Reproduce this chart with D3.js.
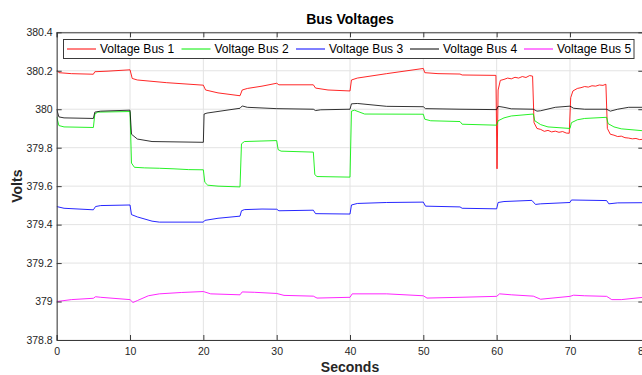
<!DOCTYPE html>
<html>
<head>
<meta charset="utf-8">
<script src="https://cdn.jsdelivr.net/npm/d3@7"></script>
<style>
  html, body { margin: 0; padding: 0; background: #fff; }
  svg { display: block; font-family: "Liberation Sans", Arial, Helvetica, sans-serif; }
</style>
</head>
<body>
<svg id="chart" width="642" height="375"></svg>
<script>
// Bus voltage traces: [time (s), voltage (V)]
const bus1 = [[0,380.204],[0.3,380.19],[2,380.185],[5,380.182],[5.2,380.195],[7,380.198],[10,380.205],[10.3,380.16],[11,380.152],[15,380.138],[20,380.125],[20.3,380.1],[22,380.085],[25,380.07],[25.3,380.1],[26,380.108],[28,380.12],[30,380.135],[30.3,380.127],[35,380.127],[35.3,380.11],[37,380.1],[40,380.095],[40.2,380.152],[41,380.162],[45,380.185],[50,380.212],[50.2,380.19],[52,380.185],[55,380.183],[55.3,380.178],[59.9,380.176],[60.05,379.69],[60.2,380.1],[60.5,380.15],[61,380.155],[61.5,380.162],[62,380.158],[62.5,380.166],[63,380.162],[63.5,380.17],[64,380.165],[64.5,380.175],[64.9,380.172],[65.1,379.93],[65.5,379.9],[66,379.895],[66.5,379.885],[67,379.89],[67.5,379.882],[68,379.886],[68.5,379.88],[69,379.884],[69.5,379.876],[69.9,379.875],[70.1,380.06],[70.4,380.095],[71,380.108],[71.5,380.112],[72,380.118],[72.5,380.115],[73,380.122],[73.5,380.12],[74,380.126],[74.5,380.124],[74.9,380.13],[75.1,379.9],[75.5,379.87],[76,379.865],[76.5,379.858],[77,379.86],[77.5,379.852],[78,379.85],[78.5,379.846],[79,379.848],[79.5,379.842],[80,379.844]];
const bus2 = [[0,379.96],[0.3,379.915],[1,379.908],[5,379.905],[5.2,379.975],[5.6,379.985],[10,379.988],[10.2,379.72],[10.6,379.698],[12,379.695],[14,379.693],[16,379.69],[18,379.686],[20,379.685],[20.2,379.62],[20.6,379.605],[22,379.6],[25,379.596],[25.2,379.82],[25.6,379.832],[30,379.837],[30.2,379.79],[30.6,379.782],[35,379.777],[35.2,379.66],[35.5,379.65],[40,379.647],[40.2,379.99],[40.6,379.995],[42,379.975],[50,379.974],[50.2,379.948],[51,379.94],[55,379.936],[55.3,379.922],[60,379.917],[60.2,379.94],[61,379.955],[62,379.965],[65,379.975],[65.2,379.94],[66,379.92],[67,379.908],[70,379.9],[70.2,379.93],[71,379.945],[72,379.952],[75,379.958],[75.2,379.925],[76,379.908],[77,379.898],[80,379.888]];
const bus3 = [[0,379.494],[1,379.485],[5,379.477],[5.3,379.494],[6,379.499],[10,379.502],[10.2,379.452],[11,379.44],[13,379.418],[14,379.413],[20,379.413],[20.2,379.422],[22,379.433],[25,379.444],[25.2,379.472],[25.6,379.478],[28,379.481],[30,379.48],[30.3,379.472],[35,379.475],[35.3,379.457],[40,379.455],[40.2,379.502],[41,379.51],[45,379.515],[50,379.517],[50.3,379.496],[55,379.492],[55.3,379.485],[60,379.482],[60.2,379.515],[61,379.52],[64.8,379.526],[65.3,379.505],[66,379.508],[70,379.515],[70.2,379.528],[75,379.525],[75.3,379.508],[76.5,379.513],[80,379.514]];
const bus4 = [[0,380.0],[0.3,379.96],[1,379.955],[5,379.952],[5.2,379.985],[6,379.99],[10,379.995],[10.2,379.87],[11,379.845],[13,379.832],[20,379.828],[20.1,379.975],[20.5,379.98],[25,380.005],[25.3,380.017],[26,380.01],[30,380.003],[35,380.0],[35.3,379.993],[36,379.997],[40,380.0],[40.2,380.028],[41,380.03],[45,380.015],[50,380.013],[50.3,380.003],[55,380.0],[60,379.998],[60.2,380.015],[61,380.01],[62,380.002],[65,380.0],[65.5,379.99],[66,379.992],[68,380.01],[70,380.016],[70.5,380.005],[72,380.0],[75,380.0],[75.5,379.99],[76.5,380.0],[78,380.01],[80,380.01]];
const bus5 = [[0,379.0],[2,379.01],[5,379.017],[5.3,379.025],[6,379.022],[10,379.01],[10.4,378.995],[11,379.005],[12.5,379.03],[14,379.04],[17,379.047],[20,379.052],[21,379.04],[25,379.035],[25.3,379.05],[27,379.048],[30,379.042],[31,379.032],[35,379.028],[35.5,379.018],[40,379.022],[40.3,379.04],[45,379.04],[50,379.03],[50.5,379.018],[55,379.022],[60,379.027],[60.4,379.04],[62,379.035],[65,379.028],[66,379.012],[70,379.027],[70.5,379.033],[72,379.03],[75,379.027],[75.7,379.01],[77,379.01],[80,379.022]];

const seriesNames = ["Voltage Bus 1", "Voltage Bus 2", "Voltage Bus 3", "Voltage Bus 4", "Voltage Bus 5"];
const seriesColors = ["#ff0000", "#00ee00", "#0000ff", "#000000", "#ff00ff"];
const seriesData = [bus1, bus2, bus3, bus4, bus5];

const xTicks = [0, 10, 20, 30, 40, 50, 60, 70, 80];
const yTicks = [378.8, 379, 379.2, 379.4, 379.6, 379.8, 380, 380.2, 380.4];
const xDomain = [0, 80];
const yDomain = [378.8, 380.4];

const svg = d3.select("#chart");
const plot = { left: 56.7, right: 643.3, top: 32.3, bottom: 340 };

const x = d3.scaleLinear().domain(xDomain).range([plot.left, plot.right]);
const y = d3.scaleLinear().domain(yDomain).range([plot.bottom, plot.top]);

const axisColor = "#3a3a3a";
const textColor = "#262626";
const fmt = d => String(+d.toFixed(1));

// grid
const grid = svg.append("g");
grid.selectAll("line.gx").data(xTicks).join("line")
  .attr("x1", d => x(d)).attr("x2", d => x(d))
  .attr("y1", plot.top).attr("y2", plot.bottom)
  .attr("stroke", "#e3e3e3").attr("stroke-width", 1);
grid.selectAll("line.gy").data(yTicks).join("line")
  .attr("y1", d => y(d)).attr("y2", d => y(d))
  .attr("x1", plot.left).attr("x2", plot.right)
  .attr("stroke", "#e3e3e3").attr("stroke-width", 1);

// traces
svg.append("clipPath").attr("id", "clip").append("rect")
  .attr("x", plot.left).attr("y", plot.top)
  .attr("width", plot.right - plot.left).attr("height", plot.bottom - plot.top);

const line = d3.line().x(d => x(d[0])).y(d => y(d[1]));
svg.append("g").attr("clip-path", "url(#clip)")
  .selectAll("path").data(seriesData).join("path")
  .attr("d", d => line(d))
  .attr("fill", "none")
  .attr("stroke", (d, i) => seriesColors[i])
  .attr("stroke-width", 1)
  .attr("stroke-opacity", (d, i) => i === 3 ? 0.8 : 0.85);

// axes with inward ticks (box style)
const tickLen = 5;
const axB = d3.axisBottom(x).tickValues(xTicks).tickSize(-tickLen).tickPadding(8).tickFormat(d3.format("d"));
const axT = d3.axisTop(x).tickValues(xTicks).tickSize(-tickLen).tickFormat("");
const axL = d3.axisLeft(y).tickValues(yTicks).tickSize(-tickLen).tickPadding(4).tickFormat(fmt);
const axR = d3.axisRight(y).tickValues(yTicks).tickSize(-tickLen).tickFormat("");

function styleAxis(g) {
  g.select(".domain").attr("stroke", axisColor).attr("stroke-width", 1);
  g.selectAll(".tick line").attr("stroke", axisColor);
  g.selectAll(".tick text").attr("fill", textColor).attr("font-size", "10.5px")
    .attr("font-family", "Liberation Sans, Arial, sans-serif");
}
svg.append("g").attr("transform", `translate(0,${plot.bottom})`).call(axB).call(styleAxis);
svg.append("g").attr("transform", `translate(0,${plot.top})`).call(axT).call(styleAxis);
svg.append("g").attr("transform", `translate(${plot.left},0)`).call(axL).call(styleAxis);
svg.append("g").attr("transform", `translate(${plot.right},0)`).call(axR).call(styleAxis);
svg.selectAll(".domain").attr("d", function() { return d3.select(this).attr("d").replace(/[VH]-?5/g, m => m[0] + "0"); });

// labels
svg.append("text").attr("x", (plot.left + plot.right) / 2).attr("y", 24)
  .attr("text-anchor", "middle").attr("font-weight", "bold").attr("font-size", "14px")
  .attr("fill", "#000").text("Bus Voltages");
svg.append("text").attr("x", (plot.left + plot.right) / 2).attr("y", 371.5)
  .attr("text-anchor", "middle").attr("font-weight", "bold").attr("font-size", "14px")
  .attr("fill", textColor).text("Seconds");
svg.append("text")
  .attr("transform", `translate(21.8,${(plot.top + plot.bottom) / 2}) rotate(-90)`)
  .attr("text-anchor", "middle").attr("font-weight", "bold").attr("font-size", "14px")
  .attr("fill", textColor).text("Volts");

// legend
const leg = svg.append("g");
leg.append("rect").attr("x", 63.5).attr("y", 39.5).attr("width", 570.5).attr("height", 19)
  .attr("fill", "#fff").attr("stroke", axisColor).attr("stroke-width", 1);
const entryX = [67, 181.5, 296, 410, 524];
const entries = leg.selectAll("g.entry").data(seriesNames).join("g")
  .attr("transform", (d, i) => `translate(${entryX[i]},0)`);
entries.append("line").attr("x1", 0).attr("x2", 29).attr("y1", 49).attr("y2", 49)
  .attr("stroke", (d, i) => seriesColors[i]).attr("stroke-width", 1);
entries.append("text").attr("x", 33).attr("y", 53).attr("font-size", "12px")
  .attr("fill", "#000").text(d => d);
</script>
</body>
</html>
